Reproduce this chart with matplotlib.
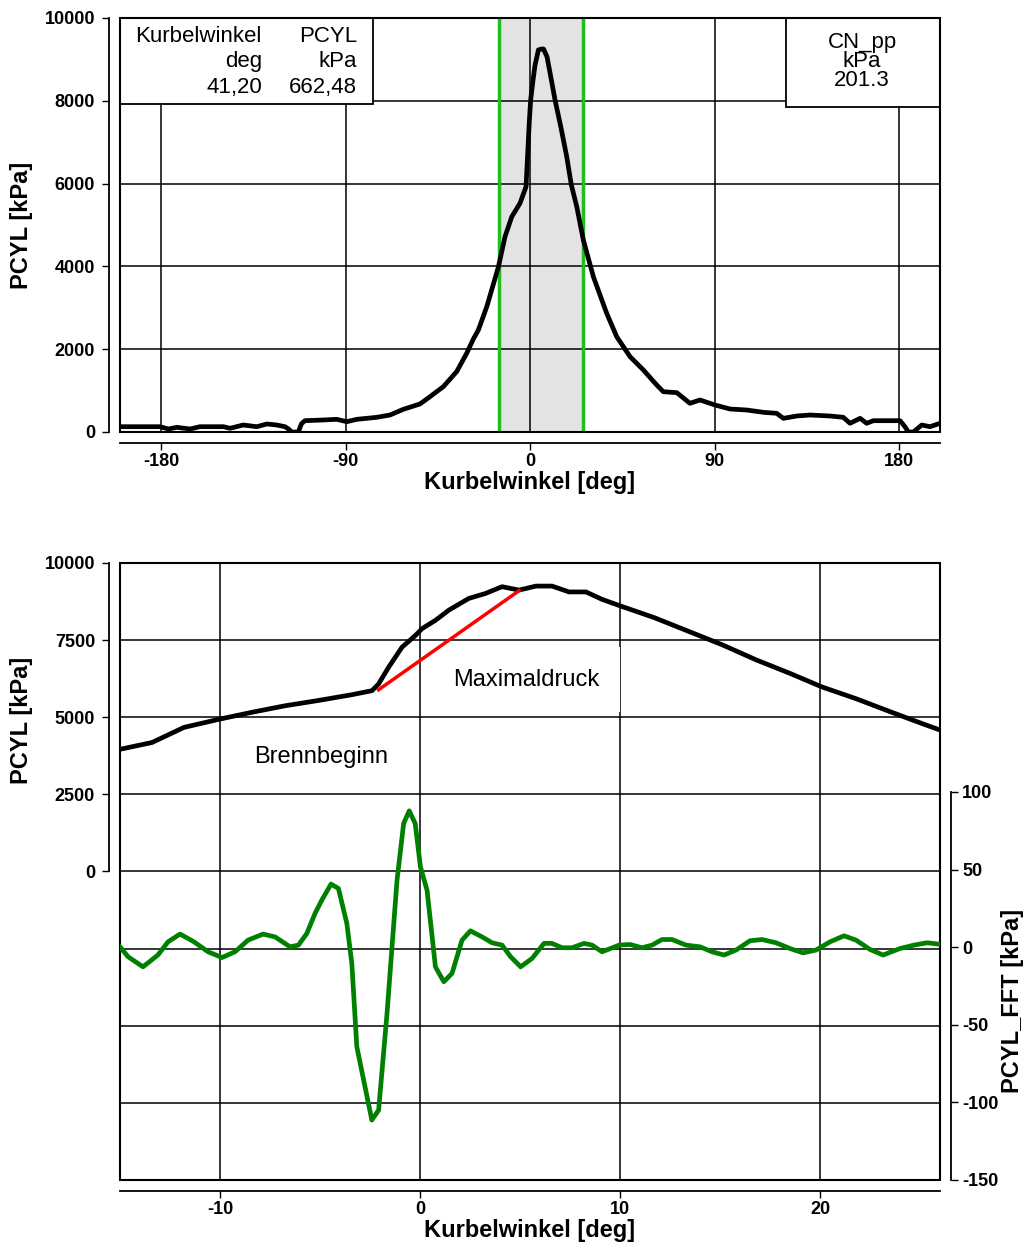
import numpy as np
import matplotlib.pyplot as plt
from matplotlib.patches import Rectangle

plt.rcParams['font.family'] = ['Liberation Sans', 'DejaVu Sans']
plt.rcParams['axes.unicode_minus'] = False

# Uebersicht: Zylinderdruck ueber ganzen Zyklus (deg, kPa)
angle_full = [-200, -180.5, -176.4, -172.3, -165.9, -161, -149.6, -146.3, -139.9, -133.3,
              -128.4, -123.6, -119.5, -117.5, -116.3, -113, -111.5, -109.8, -100.8, -94.3,
              -89.4, -84.5, -74.8, -68.3, -61.8, -53.7, -48.8, -42.3, -35.8, -30.9,
              -27.7, -25.2, -21.1, -15.4, -12.2, -8.9, -4.9, -1.95, -1.3, -0.3,
              0.3, 1.4, 2.4, 4.1, 5.8, 6.6, 8.3, 10.0, 12.2, 15.1,
              17.9, 20.1, 22.8, 26.0, 30.9, 37.4, 42.3, 48.8, 55.3, 61.8,
              65.0, 71.6, 78.0, 82.9, 90.2, 97.6, 105.7, 113.8, 120.3, 123.6,
              130.1, 136.6, 146.3, 152.8, 156.1, 161.0, 164.2, 167.5, 180.5, 183.0,
              184.5, 187.0, 191.1, 195.1, 200]
pcyl_full = [128, 128, 72, 113, 72, 128, 128, 89, 169, 128,
             193, 169, 128, 60, 0, 0, 200, 273, 290, 306,
             249, 306, 354, 410, 548, 676, 853, 1094, 1456, 1900,
             2240, 2463, 3026, 3992, 4717, 5200, 5523, 5924, 6569, 7535,
             8018, 8470, 8850, 9230, 9250, 9250, 9060, 8610, 8018, 7350,
             6650, 5980, 5441, 4637, 3750, 2866, 2300, 1818, 1497, 1135,
             973, 950, 693, 773, 652, 555, 531, 475, 451, 330,
             386, 410, 386, 355, 210, 330, 210, 273, 273, 120,
             0, 0, 169, 128, 210]

# Ausschnitt um OT (deg, kPa)
angle_zoom = [-15.0, -13.4, -11.8, -10.0, -8.4, -6.75, -5.1, -3.4, -2.4, -2.07,
              -1.57, -0.9, -0.23, 0.1, 0.77, 1.44, 2.44, 3.27, 4.1, 4.95,
              5.8, 6.6, 7.45, 8.3, 9.1, 10.0, 11.7, 13.4, 15.1, 16.8,
              18.5, 20.1, 21.8, 23.5, 25.2, 26.1]
pcyl_zoom = [3960, 4180, 4670, 4940, 5160, 5370, 5540, 5730, 5860, 6080,
             6620, 7270, 7650, 7870, 8140, 8470, 8850, 9010, 9230, 9120,
             9250, 9250, 9060, 9060, 8820, 8610, 8230, 7790, 7350, 6860,
             6420, 5980, 5600, 5180, 4770, 4560]

# Gefiltertes Signal PCYL_FFT (deg, kPa)
angle_fft = [-15.0, -14.6, -13.85, -13.1, -12.6, -12.0, -11.3, -10.6, -9.9, -9.25,
             -8.6, -7.85, -7.25, -6.5, -6.08, -5.66, -5.25, -4.91, -4.45, -4.08,
             -3.66, -3.41, -3.16, -2.82, -2.41, -2.07, -1.65, -1.40, -1.15, -0.82,
             -0.54, -0.24, 0.02, 0.35, 0.77, 1.19, 1.6, 2.1, 2.52, 3.1,
             3.6, 4.1, 4.53, 5.03, 5.6, 6.2, 6.6, 7.1, 7.6, 8.2,
             8.6, 9.1, 9.96, 10.5, 11.1, 11.6, 12.1, 12.6, 13.3, 14.0,
             14.6, 15.2, 15.8, 16.5, 17.1, 17.8, 18.5, 19.15, 19.8, 20.5,
             21.2, 21.8, 22.5, 23.15, 24.0, 24.7, 25.35, 26.1]
fft_vals = [0.2, -6.2, -12.7, -5, 3.4, 8.4, 3.4, -3, -6.7, -3,
            4.5, 8.4, 6.6, 0.2, 1.3, 8.8, 21.7, 30.3, 40.6, 37.8,
            15.3, -10.5, -64.2, -85.6, -111.4, -105, -42.7, 0.2, 43.1, 79.6,
            87.8, 79.6, 51.7, 36.7, -12.7, -22.3, -16.9, 4.5, 10.5, 6.6,
            2.8, 1.3, -6.2, -12.7, -7.3, 2.4, 2.4, -0.4, -0.4, 2.4,
            1.3, -3, 1.3, 1.7, -0.4, 1.3, 4.9, 4.9, 1.3, 0.2,
            -3, -5.1, -1.9, 4.1, 4.9, 2.8, -0.9, -3.7, -1.9, 3.4,
            7.3, 4.5, -1.5, -5.1, -0.9, 1.3, 2.8, 1.7]

# Brennbeginn -> Maximaldruck
burn_x = [-2.07, 4.95]
burn_y = [5890, 9100]

window = (-15, 26)

label_font = dict(fontsize=17, fontweight='bold')


def style_axis(ax):
    ax.spines['left'].set_position(('outward', 8))
    ax.spines['bottom'].set_position(('outward', 8))
    for s in ax.spines.values():
        s.set_linewidth(1.3)
    ax.add_patch(Rectangle((0, 0), 1, 1, transform=ax.transAxes, fill=False,
                           edgecolor='black', lw=1.5, clip_on=False, zorder=6))
    ax.tick_params(direction='out', length=5, width=1, labelsize=13)
    ax.tick_params(axis='x', pad=2)
    ax.tick_params(axis='y', pad=5)
    for lab in ax.get_xticklabels() + ax.get_yticklabels():
        lab.set_fontweight('bold')
    ax.grid(True, color='black', lw=1.1)


fig = plt.figure(figsize=(10.25, 12.46), dpi=100)

# ---- oben: ganzer Zyklus ----
ax1 = fig.add_axes([0.1171, 0.6533, 0.8, 0.3323])
ax1.axvspan(window[0], window[1], color='#e3e3e3', zorder=1)
for xv in window:
    ax1.axvline(xv, color='#1ec01e', lw=2.5, zorder=2)
ax1.plot(angle_full, pcyl_full, color='black', lw=3.4, zorder=3)
ax1.set_xlim(-200, 200)
ax1.set_ylim(0, 10000)
ax1.set_xticks([-180, -90, 0, 90, 180])
ax1.set_yticks(np.arange(0, 10001, 2000))
style_axis(ax1)
ax1.set_xlabel('Kurbelwinkel [deg]', labelpad=1, **label_font)
ax1.set_ylabel('PCYL [kPa]', labelpad=8, **label_font)

ax1.add_patch(Rectangle((0, 0.792), 0.3085, 0.208, transform=ax1.transAxes,
                        facecolor='white', edgecolor='black', lw=1.3, zorder=5))
for xr, lines in [(0.173, ['Kurbelwinkel', 'deg', '41,20']),
                  (0.289, ['PCYL', 'kPa', '662,48'])]:
    for yy, t in zip([0.954, 0.894, 0.833], lines):
        ax1.text(xr, yy, t, transform=ax1.transAxes, ha='right', va='center',
                 fontsize=16, zorder=7)

ax1.add_patch(Rectangle((0.812, 0.785), 0.188, 0.215, transform=ax1.transAxes,
                        facecolor='white', edgecolor='black', lw=1.3, zorder=5))
for yy, t in zip([0.940, 0.894, 0.848], ['CN_pp', 'kPa', '201.3']):
    ax1.text(0.905, yy, t, transform=ax1.transAxes, ha='center', va='center',
             fontsize=16, zorder=7)

# ---- unten: Ausschnitt ----
ax = fig.add_axes([0.1171, 0.0530, 0.8, 0.4952])
ax.plot(angle_zoom, pcyl_zoom, color='black', lw=3.4, zorder=5)
ax.plot(burn_x, burn_y, color='red', lw=2.5, zorder=5)
ax.set_xlim(window[0], window[1])
ax.set_ylim(-10000, 10000)
ax.set_xticks([-10, 0, 10, 20])
ax.set_yticks(np.arange(0, 10001, 2500))
style_axis(ax)
ax.spines['left'].set_bounds(0, 10000)
for yv in [-2500, -5000, -7500]:
    ax.axhline(yv, color='black', lw=1.1, zorder=1.5)
ax.set_xlabel('Kurbelwinkel [deg]', labelpad=1, **label_font)
ax.set_ylabel('PCYL [kPa]', labelpad=8, y=0.745, **label_font)

ax.text(5.3, 6220, 'Maximaldruck', ha='center', va='center', fontsize=17, zorder=4,
        bbox=dict(boxstyle='square,pad=0.9', facecolor='white', edgecolor='none'))
ax.text(-4.96, 3713, 'Brennbeginn', ha='center', va='center', fontsize=17, zorder=4)

ax2 = ax.twinx()
ax2.plot(angle_fft, fft_vals, color='#008000', lw=3.4)
ax2.set_ylim(-150, 247.5)
ax2.set_yticks([-150, -100, -50, 0, 50, 100])
for name in ['left', 'top', 'bottom']:
    ax2.spines[name].set_visible(False)
ax2.spines['right'].set_position(('outward', 8))
ax2.spines['right'].set_bounds(-150, 100)
ax2.spines['right'].set_linewidth(1.3)
ax2.tick_params(direction='out', length=5, width=1, pad=3, labelsize=13)
for lab in ax2.get_yticklabels():
    lab.set_fontweight('bold')
ax2.set_ylabel('PCYL_FFT [kPa]', labelpad=2, y=0.29, **label_font)

fig.savefig('out.png', dpi=100)
